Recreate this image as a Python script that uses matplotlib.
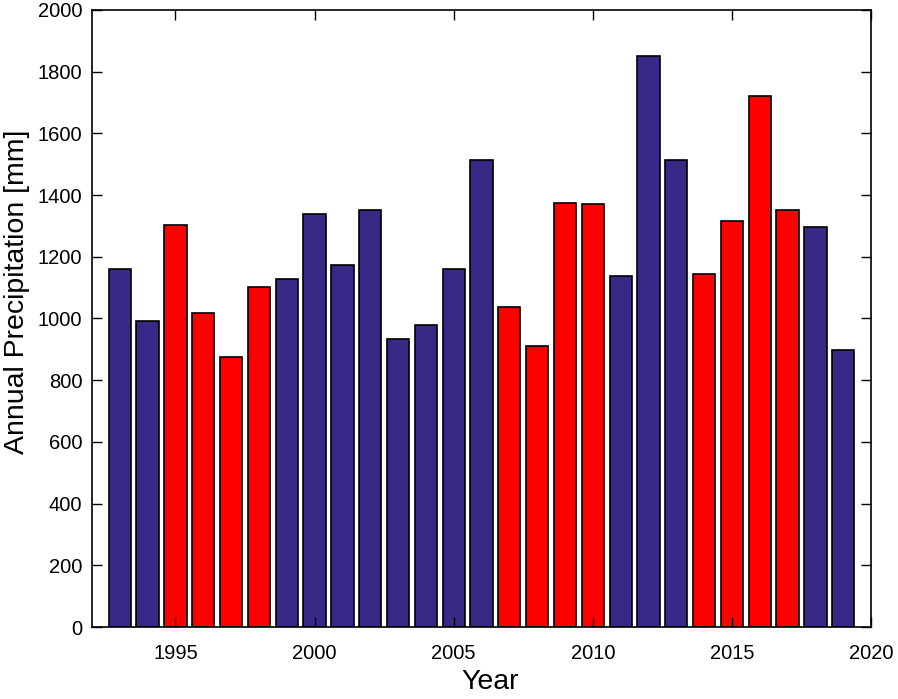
import numpy as np
import matplotlib.pyplot as plt

plt.rcParams['font.family'] = ['Liberation Sans', 'DejaVu Sans']

years = list(range(1993, 2020))
precip = [1160, 992, 1303, 1018, 875, 1102, 1128, 1339, 1173, 1352,
          934, 979, 1160, 1514, 1037, 910, 1375, 1370, 1138, 1850,
          1514, 1145, 1315, 1722, 1352, 1295, 898]
# 1 = red (highlighted) years, 0 = blue
highlight = [0, 0, 1, 1, 1, 1, 0, 0, 0, 0,
             0, 0, 0, 0, 1, 1, 1, 1, 0, 0,
             0, 1, 1, 1, 1, 0, 0]

blue = '#372a87'
red = '#ff0000'
colors = [red if h else blue for h in highlight]

fig = plt.figure(figsize=(8.98, 6.99), dpi=100)
ax = fig.add_axes([0.1024, 0.103, 0.8676, 0.8827])

ax.bar(years, precip, width=0.8, color=colors, edgecolor='black', linewidth=1.2)

ax.set_xlim(1992, 2020)
ax.set_ylim(0, 2000)
ax.set_xticks([1995, 2000, 2005, 2010, 2015, 2020])
ax.set_yticks(np.arange(0, 2001, 200))
ax.tick_params(direction='in', top=True, right=True, labelsize=14.5,
               length=7, width=1)
ax.tick_params(axis='x', pad=12)
ax.tick_params(axis='y', pad=7)
for s in ax.spines.values():
    s.set_linewidth(1.2)

ax.set_xlabel('Year', fontsize=20.5, va='center')
ax.xaxis.set_label_coords(0.511, -0.089)
ax.set_ylabel('Annual Precipitation [mm]', fontsize=20.5, va='center')
ax.yaxis.set_label_coords(-0.096, 0.543)

fig.savefig('out.png', dpi=100)
